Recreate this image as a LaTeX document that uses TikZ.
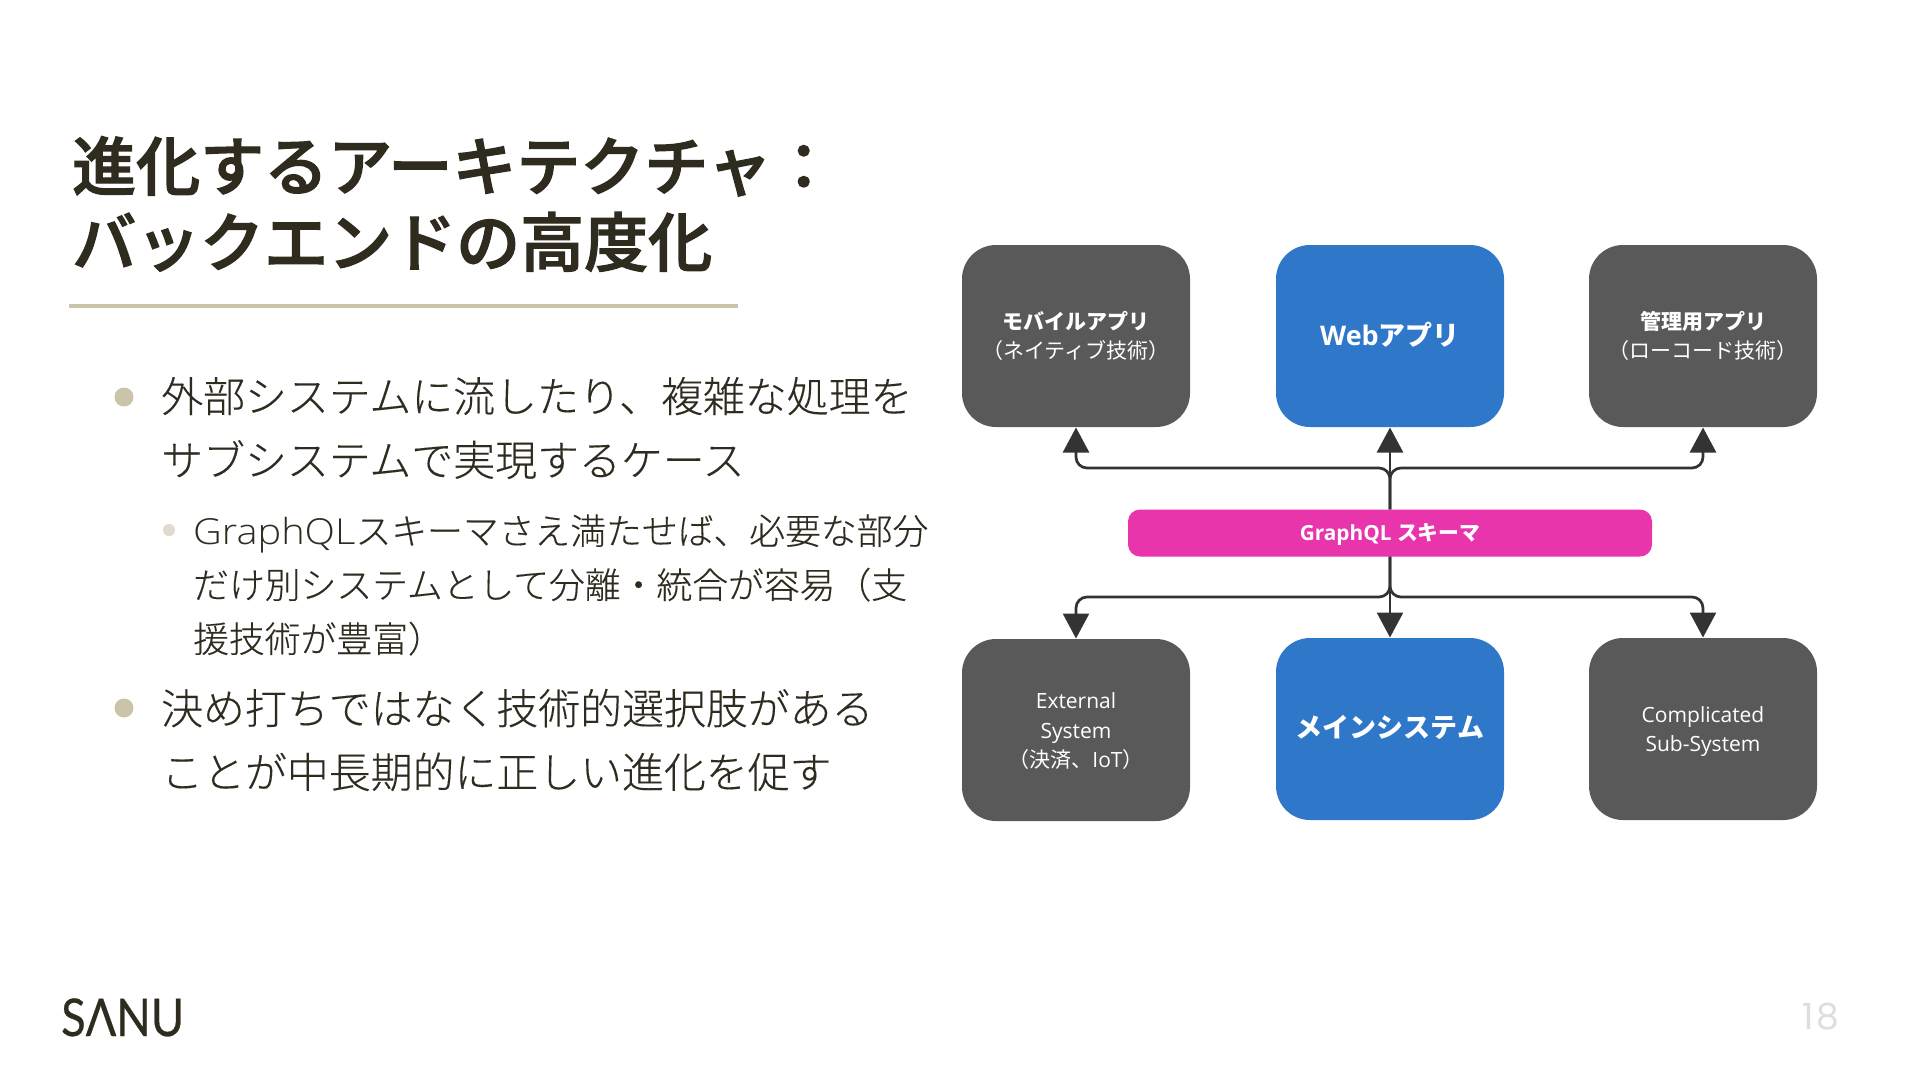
\documentclass[tikz,border=0pt]{standalone}
\usepackage{fontspec}
\usetikzlibrary{arrows.meta}
\setmainfont{Open Sans}
\newfontfamily\cjk{Noto Sans CJK JP}
\newfontfamily\cjkmedium[UprightFont={* Medium},FakeBold=2]{Noto Sans CJK JP}
\newfontfamily\cjklight[UprightFont={* Light},FakeBold=0.25]{Noto Sans CJK JP}
\newfontfamily\latlight[UprightFont={* Light},FakeStretch=1.11]{Open Sans}
\newfontfamily\logofont[FakeStretch=0.87,FakeBold=0.5]{Lato}
\newfontfamily\pagefont[LetterSpace=8]{Poppins}
\newcommand{\jp}[1]{{\cjk #1}}
\newcommand{\nudge}[2]{\raisebox{#1}[\height][\depth]{#2}}
\definecolor{ink}{HTML}{2F2C1F}
\definecolor{rulecol}{HTML}{CBC4A8}
\definecolor{subdot}{HTML}{E3D9CF}
\definecolor{greybox}{HTML}{595959}
\definecolor{bluebox}{HTML}{2F78C9}
\definecolor{pinkbox}{HTML}{E835AB}
\definecolor{arrowcol}{HTML}{333333}
\definecolor{pagenum}{HTML}{DEDEDE}
\tikzset{
  x=1pt,y=-1pt,
  card/.style={draw=none,rounded corners=34pt,minimum width=228pt,minimum height=182pt,inner sep=0pt,outer sep=0.5pt,text=white,align=center},
  greycard/.style={card,fill=greybox,font=\fontsize{21}{29.6}\selectfont},
  bluecard/.style={card,fill=bluebox},
  schemabar/.style={rounded corners=12pt,fill=pinkbox,minimum width=524pt,minimum height=47pt,inner sep=0pt,text=white,font=\bfseries\fontsize{20.8}{26}\selectfont},
  big/.style={font=\bfseries\fontsize{27}{32}\selectfont},
  link/.style={draw=arrowcol,line width=2.7pt,rounded corners=11pt,-{Triangle[length=25pt,width=26pt,fill=arrowcol]}},
  bodytext/.style={anchor=west,inner sep=0pt,text=ink,align=left,font=\cjklight\fontsize{41.9}{63.7}\selectfont},
  subtext/.style={anchor=west,inner sep=0pt,text=ink,align=left,font=\cjklight\fontsize{35.8}{54}\selectfont},
  titletext/.style={anchor=west,inner sep=0pt,text=ink,align=left,font=\cjkmedium\fontsize{64}{76}\selectfont},
  dot/.style={circle,fill=rulecol,minimum size=19pt,inner sep=0pt},
  subdotstyle/.style={circle,fill=subdot,minimum size=12pt,inner sep=0pt},
}
\begin{document}
\begin{tikzpicture}
\useasboundingbox (0,0) rectangle (1920,1080);
\fill[white] (0,0) rectangle (1920,1080);

\node[titletext] (title) at (72,204) {進化するアーキテクチャ：\\バックエンドの高度化};
\fill[rulecol] (69,304) rectangle (738,308);

\node[dot] (b1) at (124,397) {};
\node[bodytext] (t1) at (161,428) {外部システムに流したり、複雑な処理を\\サブシステムで実現するケース};
\node[subdotstyle] (b2) at (169,530) {};
\node[subtext] (t2) at (193,585) {{\latlight\fontsize{35.8}{54}\selectfont GraphQL}スキーマさえ満たせば、必要な部分\\だけ別システムとして分離・統合が容易（支\\援技術が豊富）};
\node[dot] (b3) at (124,708) {};
\node[bodytext] (t3) at (161,740) {決め打ちではなく技術的選択肢がある\\ことが中長期的に正しい進化を促す};

\node[greycard] (mobile) at (1076,336) {{\cjk\bfseries モバイルアプリ}\\{\cjk （ネイティブ技術）}};
\node[bluecard,big] (web) at (1390,336) {\nudge{1pt}{Web\jp{アプリ}}};
\node[greycard] (admin) at (1703,336) {{\cjk\bfseries 管理用アプリ}\\{\cjk （ローコード技術）}};
\node[schemabar] (schema) at (1390,533) {\nudge{-1.2pt}{GraphQL \jp{スキーマ}}};
\node[greycard] (ext) at (1076,730) {\nudge{-1.2pt}{External}\\\nudge{-1.2pt}{System}\\\nudge{-1.2pt}{\jp{（決済、}IoT\jp{）}}};
\node[bluecard,font=\fontsize{27}{32}\selectfont\cjk\bfseries] (main) at (1390,729) {\nudge{1.2pt}{メインシステム}};
\node[greycard] (sub) at (1703,729) {\nudge{-2.5pt}{Complicated}\\\nudge{-2.5pt}{Sub-System}};

\coordinate (upper) at (1390,468);
\coordinate (lower) at (1390,597);
\draw[link] (schema.north) -- (upper) -| (mobile.south);
\draw[link] (schema.north) -- (upper) -| (admin.south);
\draw[link] (schema.north) -- (web.south);
\draw[link] (schema.south) -- (lower) -| (ext.north);
\draw[link] (schema.south) -- (lower) -| (sub.north);
\draw[link] (schema.south) -- (main.north);

\node[inner sep=0pt,anchor=base west,text=ink,font=\logofont\fontsize{52}{52}\selectfont] (logo) at (61,1036) {SΛNU};
\node[inner sep=0pt,text=pagenum,font=\pagefont\fontsize{36}{36}\selectfont] (page) at (1821,1017) {18};
\end{tikzpicture}
\end{document}
